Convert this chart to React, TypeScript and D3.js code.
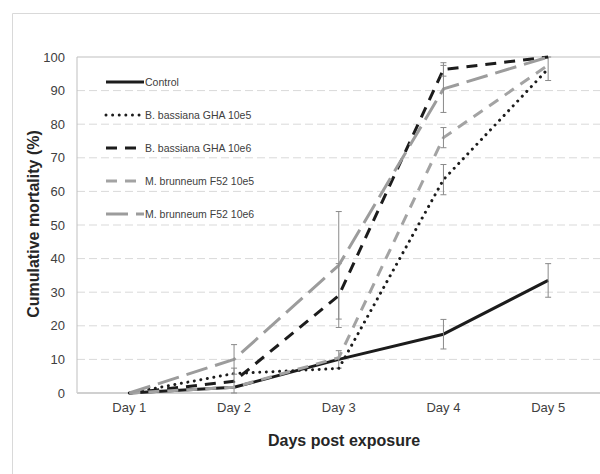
import React from "react";
import * as d3 from "d3";

const days = ["Day 1", "Day 2", "Day 3", "Day 4", "Day 5"];
const yTicks = [0, 10, 20, 30, 40, 50, 60, 70, 80, 90, 100];

const seriesNames = [
  "Control",
  "B. bassiana GHA 10e5",
  "B. bassiana GHA 10e6",
  "M. brunneum F52 10e5",
  "M. brunneum F52 10e6",
];
const controlVals = [0, 1.7, 10, 17.5, 33.5];
const controlErr = [0, 0, 2.6, 4.4, 5];
const bb5Vals = [0, 5.8, 7.3, 63.5, 96.5];
const bb5Err = [0, 0, 0, 4.5, 3.5];
const bb6Vals = [0, 3.5, 29, 96.3, 100];
const bb6Err = [0, 3.9, 9.5, 2, 0];
const mb5Vals = [0, 1.7, 10.5, 76, 97.6];
const mb5Err = [0, 0, 0, 3, 0];
const mb6Vals = [0, 10, 38, 90.5, 100];
const mb6Err = [0, 4.4, 16, 7, 0];

const styles = [
  { color: "#1c1c1c", dash: "none", cap: "butt" },
  { color: "#1c1c1c", dash: "0.01,6.6", cap: "round" },
  { color: "#1c1c1c", dash: "11,8", cap: "butt" },
  { color: "#a3a3a3", dash: "11,8", cap: "butt" },
  { color: "#9c9c9c", dash: "22,8", cap: "butt" },
];

export default function App() {
  const W = 600, H = 474;
  const x = d3.scaleBand<string>().domain(days).range([77, 600.5]);
  const y = d3.scaleLinear().domain([0, 100]).range([393, 57]);
  const cx = (d: string) => (x(d) as number) + x.bandwidth() / 2;

  const data = [
    { vals: controlVals, err: controlErr },
    { vals: bb5Vals, err: bb5Err },
    { vals: bb6Vals, err: bb6Err },
    { vals: mb5Vals, err: mb5Err },
    { vals: mb6Vals, err: mb6Err },
  ];

  const line = d3
    .line<number>()
    .x((_, i) => cx(days[i]))
    .y((v) => y(v));

  const legendY = d3.scaleLinear().domain([0, 4]).range([82, 214]);

  return (
    <svg
      width={W}
      height={H}
      style={{ position: "absolute", left: 0, top: 0, background: "#fff" }}
      fontFamily="'Liberation Sans', Arial, sans-serif"
    >
      <rect x={0} y={0} width={W} height={H} fill="#fff" />
      {/* outer chart frame */}
      <path d={`M12.5,${H + 5} V13.5 H${W + 5}`} fill="none" stroke="#d9d9d9" strokeWidth={1} />

      {/* gridlines */}
      {yTicks.slice(1, -1).map((t) => (
        <line
          key={t}
          x1={77}
          x2={600.5}
          y1={y(t)}
          y2={y(t)}
          stroke="#d9d9d9"
          strokeWidth={1}
          strokeDasharray="8,4"
        />
      ))}
      {/* plot area border top/left */}
      <line x1={77} x2={600.5} y1={y(100)} y2={y(100)} stroke="#bfbfbf" strokeWidth={1} />
      <line x1={77} x2={77} y1={y(100)} y2={y(0)} stroke="#bfbfbf" strokeWidth={1} />
      {/* x axis */}
      <line x1={77} x2={600.5} y1={y(0)} y2={y(0)} stroke="#d0d0d0" strokeWidth={2} />

      {/* y tick labels */}
      {yTicks.map((t) => (
        <text key={t} x={65} y={y(t)} dy="0.35em" textAnchor="end" fontSize={13} fill="#404040">
          {t}
        </text>
      ))}
      {/* x tick labels */}
      {days.map((d) => (
        <text key={d} x={cx(d)} y={412} textAnchor="middle" fontSize={13} fill="#404040">
          {d}
        </text>
      ))}

      {/* axis titles */}
      <text
        transform="translate(39,224) rotate(-90)"
        textAnchor="middle"
        fontSize={16}
        fontWeight="bold"
        fill="#262626"
      >
        Cumulative mortality (%)
      </text>
      <text x={344} y={446} textAnchor="middle" fontSize={16} fontWeight="bold" fill="#262626">
        Days post exposure
      </text>

      {/* series */}
      {data.map((s, si) => (
        <g key={si}>
          <path
            d={line(s.vals) as string}
            fill="none"
            stroke={styles[si].color}
            strokeWidth={3}
            strokeDasharray={styles[si].dash}
            strokeLinecap={styles[si].cap as any}
            strokeLinejoin="round"
          />
          {s.err.map((e, i) =>
            e > 0 ? (
              <g key={i} stroke="#8a8a8a" strokeWidth={1}>
                <line x1={cx(days[i])} x2={cx(days[i])} y1={y(Math.min(100, s.vals[i] + e))} y2={y(Math.max(0, s.vals[i] - e))} />
                <line x1={cx(days[i]) - 3} x2={cx(days[i]) + 3} y1={y(Math.min(100, s.vals[i] + e))} y2={y(Math.min(100, s.vals[i] + e))} />
                <line x1={cx(days[i]) - 3} x2={cx(days[i]) + 3} y1={y(Math.max(0, s.vals[i] - e))} y2={y(Math.max(0, s.vals[i] - e))} />
              </g>
            ) : null
          )}
        </g>
      ))}

      {/* legend */}
      {seriesNames.map((n, i) => (
        <g key={n}>
          <line
            x1={106}
            x2={144}
            y1={legendY(i)}
            y2={legendY(i)}
            stroke={styles[i].color}
            strokeWidth={3}
            strokeDasharray={styles[i].dash}
            strokeLinecap={styles[i].cap as any}
          />
          <text x={145} y={legendY(i)} dy="0.35em" fontSize={10.5} fill="#404040">
            {n}
          </text>
        </g>
      ))}
    </svg>
  );
}
